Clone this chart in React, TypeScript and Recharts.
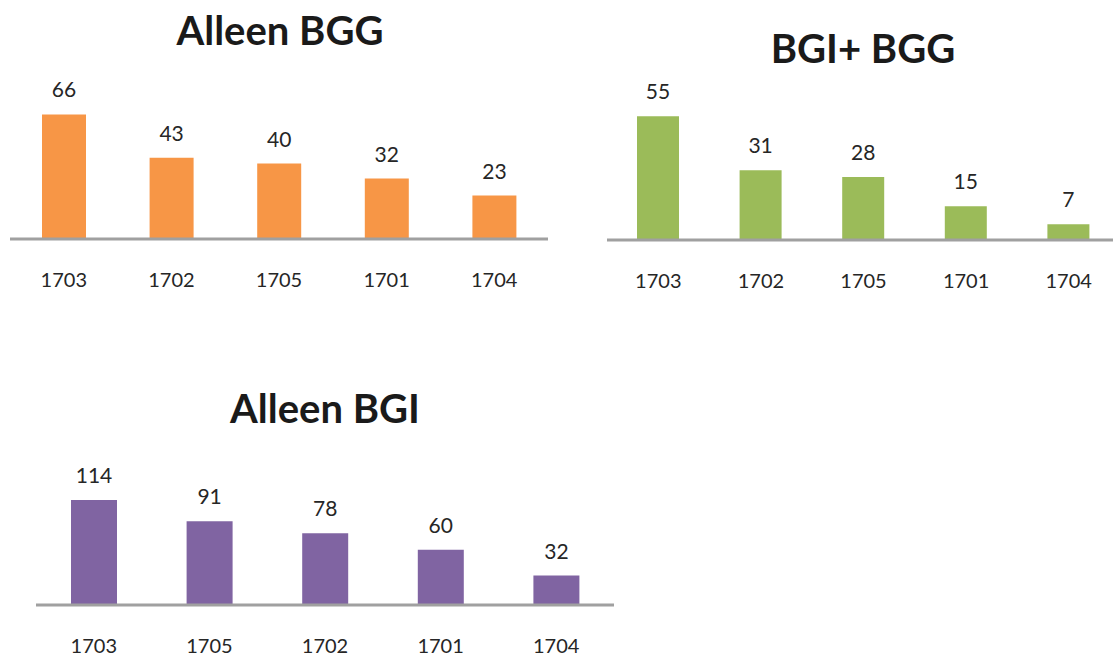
import React from 'react';
import { BarChart, Bar, XAxis, YAxis, LabelList } from 'recharts';

const bggCodes = ['1703', '1702', '1705', '1701', '1704'];
const bggCounts = [66, 43, 40, 32, 23];

const bothCodes = ['1703', '1702', '1705', '1701', '1704'];
const bothCounts = [55, 31, 28, 15, 7];

const bgiCodes = ['1703', '1705', '1702', '1701', '1704'];
const bgiCounts = [114, 91, 78, 60, 32];

const FONT = 'Lato, "Open Sans", sans-serif';
const TEXT = '#262626';
const AXIS = '#A0A0A0';
const TOP_PAD = 40;

interface MiniBarProps {
  title: string;
  codes: string[];
  counts: number[];
  color: string;
  yMax: number;
  left: number;
  plotTop: number;
  width: number;
  plotHeight: number;
  barSize: number;
  titleX: number;
  titleY: number;
}

const MiniBar: React.FC<MiniBarProps> = ({
  title, codes, counts, color, yMax, left, plotTop, width, plotHeight, barSize, titleX, titleY,
}) => {
  const data = codes.map((code, i) => ({ code, count: counts[i] }));
  return (
    <>
      <div
        style={{
          position: 'absolute',
          left: titleX - 200,
          top: titleY - 25,
          width: 400,
          textAlign: 'center',
          fontFamily: FONT,
          fontWeight: 700,
          fontSize: 40,
          lineHeight: '50px',
          color: '#1a1a1a',
        }}
      >
        {title}
      </div>
      <div style={{ position: 'absolute', left, top: plotTop - TOP_PAD }}>
        <BarChart
          width={width}
          height={TOP_PAD + plotHeight + 60}
          data={data}
          margin={{ top: TOP_PAD, right: 0, bottom: 0, left: 0 }}
          barSize={barSize}
        >
          <XAxis
            dataKey="code"
            height={60}
            tickLine={false}
            axisLine={{ stroke: AXIS, strokeWidth: 3 }}
            tickMargin={28}
            tick={{ fill: TEXT, fontSize: 20, fontFamily: FONT }}
            interval={0}
          />
          <YAxis hide domain={[0, yMax]} />
          <Bar dataKey="count" fill={color} isAnimationActive={false}>
            <LabelList
              dataKey="count"
              position="top"
              offset={17}
              fill={TEXT}
              fontSize={21}
              fontFamily={FONT}
            />
          </Bar>
        </BarChart>
      </div>
    </>
  );
};

export default function App() {
  return (
    <div
      style={{
        position: 'absolute',
        left: 0,
        top: 0,
        width: 1113,
        height: 658,
        overflow: 'hidden',
        background: '#fff',
      }}
    >
      <MiniBar
        title="Alleen BGG"
        codes={bggCodes}
        counts={bggCounts}
        color="#F79646"
        yMax={80}
        left={10}
        plotTop={88}
        width={538}
        plotHeight={151}
        barSize={44}
        titleX={280}
        titleY={30}
      />
      <MiniBar
        title="BGI+ BGG"
        codes={bothCodes}
        counts={bothCounts}
        color="#9BBB59"
        yMax={60}
        left={607}
        plotTop={105}
        width={513}
        plotHeight={135}
        barSize={42}
        titleX={863}
        titleY={48}
      />
      <MiniBar
        title="Alleen BGI"
        codes={bgiCodes}
        counts={bgiCounts}
        color="#8064A2"
        yMax={140}
        left={36}
        plotTop={476}
        width={578}
        plotHeight={129}
        barSize={46}
        titleX={325}
        titleY={408}
      />
    </div>
  );
}
